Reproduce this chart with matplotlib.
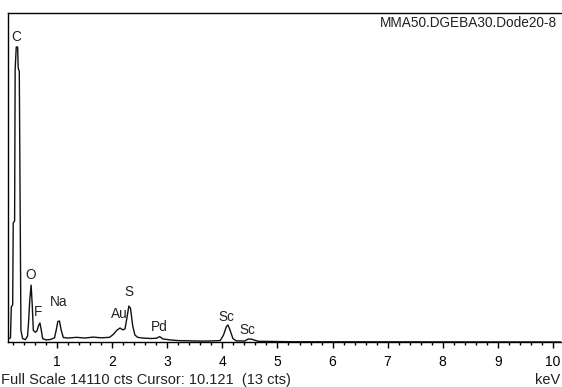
import matplotlib.pyplot as plt
from matplotlib.ticker import MultipleLocator

# EDS spectrum (keV, counts)
energy_kev = [
    0.10, 0.15, 0.165, 0.19, 0.20, 0.225, 0.235, 0.255, 0.28, 0.29, 0.31, 0.325, 0.34, 0.37, 0.42,
    0.46, 0.48, 0.50, 0.525, 0.545, 0.565, 0.60, 0.63, 0.66, 0.685, 0.71, 0.735, 0.80, 0.88, 0.95,
    0.98, 1.01, 1.04, 1.07, 1.11, 1.20, 1.35, 1.50, 1.65, 1.80, 1.95, 2.02, 2.08, 2.14, 2.19, 2.23,
    2.27, 2.30, 2.33, 2.37, 2.41, 2.46, 2.55, 2.70, 2.80, 2.86, 2.92, 3.05, 3.20, 3.40, 3.60, 3.80,
    3.96, 4.02, 4.07, 4.10, 4.14, 4.19, 4.25, 4.40, 4.47, 4.53, 4.65, 5.00, 5.30, 10.15]
counts = [
    120, 180, 1500, 1600, 5100, 5200, 11700, 12650, 12650, 11750, 11600, 6000, 500, 150, 100,
    250, 900, 1800, 2440, 1600, 500, 420, 470, 700, 815, 500, 140, 90, 110, 180,
    500, 880, 900, 520, 190, 170, 200, 170, 210, 180, 200, 330, 500, 600, 520, 560,
    1100, 1540, 1450, 700, 300, 200, 170, 150, 160, 230, 130, 90, 60, 50, 40, 45,
    60, 300, 650, 730, 500, 150, 50, 40, 130, 120, 30, 20, 10, 0]

# peak labels: element, keV, counts (label centre)
peak_names = ['C', 'O', 'F', 'Na', 'Au', 'S', 'Pd', 'Sc', 'Sc']
peak_kev = [0.25, 0.52, 0.66, 1.03, 2.12, 2.30, 2.85, 4.07, 4.45]
peak_cts = [13080, 2870, 1290, 1715, 1200, 2145, 640, 1070, 515]

full_scale = 14110
sample_name = 'MMA50.DGEBA30.Dode20-8'
status_text = 'Full Scale 14110 cts Cursor: 10.121  (13 cts)'

plt.rcParams['font.family'] = ['Liberation Sans', 'DejaVu Sans']

fig = plt.figure(figsize=(5.62, 3.87), dpi=100)
ax = fig.add_axes([8/562, 45/387, 553/562, 329/387])

ax.plot(energy_kev, counts, color='#111111', lw=1.0)

for name, x, y in zip(peak_names, peak_kev, peak_cts):
    ax.text(x, y, name, ha='center', va='center', fontsize=9.8, color='#222222')

ax.text(0.993, 0.971, sample_name, transform=ax.transAxes, ha='right', va='center',
        fontsize=9.8, color='#222222')

ax.set_xlim(0.105, 10.15)
ax.set_ylim(0, full_scale)
ax.set_yticks([])
ax.xaxis.set_major_locator(MultipleLocator(1))
ax.xaxis.set_minor_locator(MultipleLocator(0.2))
ax.set_xticks(range(1, 11))
ax.tick_params(axis='x', which='major', direction='out', length=4, width=1,
               labelsize=10, pad=5, colors='black')
ax.tick_params(axis='x', which='minor', direction='out', length=2.5, width=1)
ax.spines['right'].set_visible(False)
for s in ['left', 'top', 'bottom']:
    ax.spines[s].set_linewidth(1.0)

fig.text(1/562, 1 - 380/387, status_text, ha='left', va='center', fontsize=10.5, color='#222222')
fig.text(560/562, 1 - 380/387, 'keV', ha='right', va='center', fontsize=10.5, color='#222222')

fig.savefig('out.png', dpi=100)
